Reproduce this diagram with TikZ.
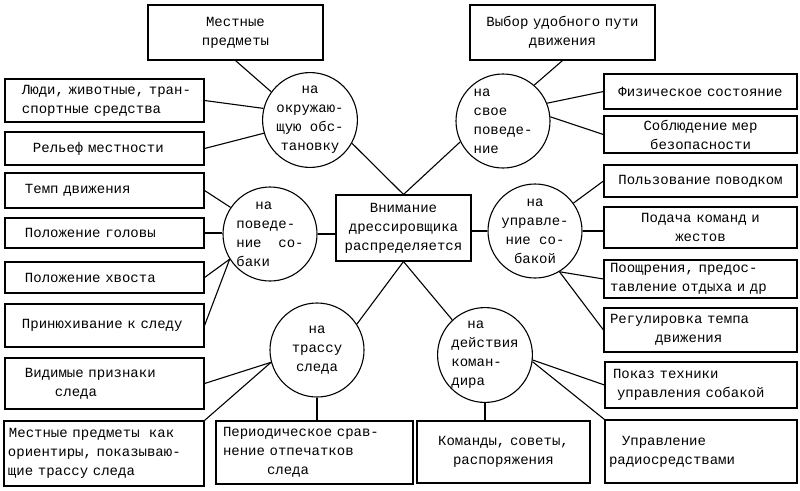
\documentclass[tikz,border=0pt]{standalone}
\usepackage{fontspec}
\setmainfont{Liberation Mono}
\begin{document}
\begin{tikzpicture}[x=1pt,y=-1pt,line width=1.1pt,
    font={\fontsize{14}{19}\selectfont},
    box/.style={draw,inner xsep=4pt,inner ysep=2pt,align=center},
    ring/.style={draw,circle,inner sep=0pt,minimum size=94pt,align=center}]
        \useasboundingbox (0,0) rectangle (800,490);

        \node[box,text width=127pt,minimum height=66pt] (vnim) at (403.5,228) {Внимание\\дрессировщика\\распределяется};

        \node[ring] (env) at (310,120) {на\\окружаю-\\щую обс-\\тановку};
        \node[ring,align=left] (svoe) at (503,121) {на\\свое\\поведе-\\ние};
        \node[ring,align=left] (sob) at (270,234) {\hspace*{19pt}на\\поведе-\\ние\ \ со-\\баки};
        \node[ring] (upr) at (535,231) {на\\управле-\\ние со-\\бакой};
        \node[ring] (tras) at (317,350) {на\\трассу\\следа};
        \node[ring,align=left] (dejst) at (485,355) {\hspace*{16pt}на\\действия\\коман-\\дира};

        \node[box,text width=167pt,minimum height=55pt] (mest) at (235.5,32.5) {Местные\\предметы};
        \node[box,text width=191pt,minimum height=43pt,align=left] (ludi) at (104.5,100.5) {\hspace*{13pt}Люди, животные, тран-\\\hspace*{13pt}спортные средства};
        \node[box,text width=191pt,minimum height=33pt,align=left] (rel) at (104.5,148.5) {\hspace*{24pt}Рельеф местности};

        \node[box,text width=177pt,minimum height=55pt] (vybor) at (562.5,32.5) {Выбор удобного пути\\движения};
        \node[box,text width=185pt,minimum height=35pt] (fiz) at (700.5,91.5) {Физическое состояние};
        \node[box,text width=185pt,minimum height=37pt] (sobl) at (700.5,134.5) {Соблюдение мер\\безопасности};

        \node[box,text width=191pt,minimum height=35pt,align=left] (temp) at (104.5,190.5) {\hspace*{16pt}Темп движения};
        \node[box,text width=191pt,minimum height=30pt,align=left] (golova) at (104.5,233) {\hspace*{16pt}Положение головы};
        \node[box,text width=191pt,minimum height=31pt,align=left] (hvost) at (104.5,277.5) {\hspace*{16pt}Положение хвоста};
        \node[box,text width=191pt,minimum height=43pt,align=left] (prin) at (104.5,325.5) {\hspace*{13pt}Принюхивание к следу};

        \node[box,text width=185pt,minimum height=32pt] (polz) at (700.5,181) {Пользование поводком};
        \node[box,text width=185pt,minimum height=41pt] (podacha) at (700.5,227.5) {Подача команд и\\жестов};
        \node[box,text width=185pt,minimum height=38pt,align=left] (pooshr) at (700.5,279) {\hspace*{2pt}Поощрения, предос-\\\hspace*{2pt}тавление отдыха и др};
        \node[box,text width=185pt,minimum height=44pt,align=left] (reg) at (700.5,330) {\hspace*{2pt}Регулировка темпа\\\hspace*{47pt}движения};

        \node[box,text width=191pt,minimum height=51pt,align=left] (vid) at (104.5,383.5) {\hspace*{16pt}Видимые признаки\\\hspace*{46pt}следа};
        \node[box,text width=192pt,minimum height=65pt,align=left] (orient) at (104,453.5) {\hspace*{1pt}Местные предметы\ \ как\\ориентиры, показываю-\\щие трассу следа};
        \node[box,text width=189pt,minimum height=63pt,align=left] (period) at (314.5,452.5) {\hspace*{3pt}Периодическое срав-\\\hspace*{3pt}нение отпечатков\\\hspace*{47pt}следа};

        \node[box,text width=165pt,minimum height=62pt] (komand) at (503.5,452) {Команды, советы,\\распоряжения};
        \node[box,text width=184pt,minimum height=46pt,align=left] (pokaz) at (701,385) {\hspace*{4pt}Показ техники\\\hspace*{8pt}управления собакой};
        \node[box,text width=184pt,minimum height=63pt,align=left] (radio) at (701,451.5) {\hspace*{13pt}Управление\\радиосредствами};

        \draw (env.-29) -- (vnim.north);
        \draw (svoe.206) -- (vnim.north);
        \draw (sob.east) -- (sob.east -| vnim.west);
        \draw (upr.west) -- (upr.west -| vnim.east);
        \draw (vnim.south) -- (tras.33);
        \draw (vnim.south) -- (dejst.133);

        \draw (mest.south) -- (env.144);
        \draw (ludi.east) -- (env.166);
        \draw (rel.east) -- (env.196);

        \draw (vybor.south) -- (svoe.49);
        \draw (fiz.west) -- (svoe.22);
        \draw (sobl.west) -- (svoe.5);

        \draw (temp.east) -- (sob.146);
        \draw (golova.east) -- (golova.east -| sob.west);
        \draw (hvost.east) -- (sob.212);
        \draw (prin.east) -- (sob.212);

        \draw (polz.west) -- (upr.36);
        \draw (upr.east) -- (upr.east -| podacha.west);
        \draw (pooshr.west) -- (upr.-59);
        \draw (reg.west) -- (upr.-59);

        \draw (vid.east) -- (tras.195);
        \draw (orient.north east) -- (tras.195);
        \draw (tras.south) -- (tras.south |- period.north);

        \draw (dejst.south) -- (dejst.south |- komand.north);
        \draw (pokaz.west) -- (dejst.-6);
        \draw (radio.north west) -- (dejst.-8);
    \end{tikzpicture}
\end{document}
